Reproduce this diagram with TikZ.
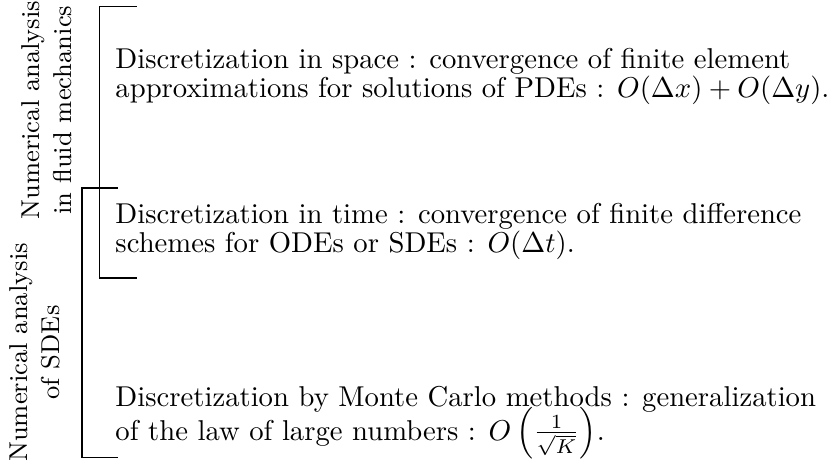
\documentclass[tikz,border=0pt]{standalone}
\usepackage{amsmath}
\begin{document}
\begin{tikzpicture}[
    every node/.style={inner sep=0pt},
    item/.style={anchor=base west,align=left,font=\fontsize{10pt}{10pt}\selectfont},
    field/.style={rotate=90,align=center,font=\small},
    bracket/.style={thin}]
  \useasboundingbox (0,0) rectangle (10.28,5.647);
  % bracket ends
  \coordinate (fluidtop) at (1.678,5.572);
  \coordinate (fluidbot) at (1.678,2.241);
  \coordinate (sdetop) at (1.445,3.343);
  \coordinate (sdebot) at (1.445,0.037);
  % fields
  \node[field] (fluid) at (0.569,4.298) {Numerical analysis\\in fluid mechanics};
  \node[field] (sde) at (0.429,1.329) {Numerical analysis\\of SDEs};
  % discretizations
  \node[item] (space) at (1.408,4.458) {Discretization in space : convergence of finite element\\approximations for solutions of PDEs : $O(\Delta x)+O(\Delta y)$.};
  \node[item] (time) at (1.408,2.559) {Discretization in time : convergence of finite difference\\schemes for ODEs or SDEs : $O(\Delta t)$.};
  \node[item] (monte) at (1.408,0.255) {Discretization by Monte Carlo methods : generalization\\[-3pt]of the law of large numbers : $O\left(\frac{1}{\sqrt{K}}\right)$.};
  \draw[bracket] (fluidtop) -- ++(-0.454,0) |- (fluidbot);
  \draw[bracket] (sdetop) -- ++(-0.441,0) |- (sdebot);
\end{tikzpicture}
\end{document}
